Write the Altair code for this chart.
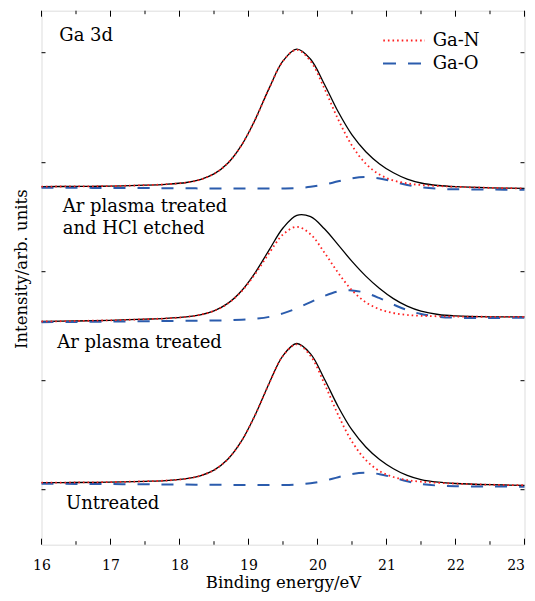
import altair as alt
import pandas as pd

# Binding energy grid (eV)
energy = [16, 16.5, 17, 17.5, 17.8, 18.1, 18.3, 18.5, 18.7, 18.9, 19.1, 19.3, 19.5, 19.7,
          19.9, 20.1, 20.3, 20.5, 20.7, 20.9, 21.1, 21.3, 21.5, 21.75, 22, 22.5, 23]

# Top spectrum (offset stack)
top_total = [358.1, 358.3, 358.6, 359.5, 360.4, 362.2, 365.1, 370.8, 381.5, 399.6, 425.6, 456.6, 483.8, 495.6,
             485.5, 460.5, 432.9, 409.8, 393.0, 380.8, 371.9, 365.6, 361.7, 359.2, 358.0, 356.9, 356.3]
top_gan = [358.1, 358.3, 358.6, 359.5, 360.4, 362.2, 365.1, 370.8, 381.5, 399.6, 425.6, 456.5, 483.6, 494.9,
           483.5, 456.2, 425.3, 399.1, 381.0, 370.1, 364.3, 361.3, 359.7, 358.7, 357.9, 356.9, 356.3]
top_gao = [357.0, 356.9, 356.7, 356.6, 356.5, 356.4, 356.3, 356.3, 356.2, 356.2, 356.1, 356.1, 356.2, 356.6,
           357.9, 360.1, 363.4, 366.4, 367.7, 366.3, 363.1, 359.8, 357.4, 355.9, 355.4, 355.1, 355.0]

# Middle spectrum
mid_total = [223.2, 223.7, 224.4, 225.5, 226.3, 227.8, 229.9, 233.9, 241.3, 254.0, 272.4, 294.9, 316.7, 329.4,
             328.0, 315.9, 299.8, 283.3, 268.6, 256.2, 246.1, 238.6, 233.6, 230.2, 228.8, 227.9, 227.9]
mid_gan = [223.2, 223.7, 224.4, 225.5, 226.3, 227.8, 229.9, 233.8, 241.1, 253.4, 271.0, 291.7, 310.2, 317.9,
           310.4, 292.2, 271.8, 254.4, 242.4, 235.4, 231.7, 229.8, 228.9, 228.4, 228.2, 227.9, 227.9]
mid_gao = [222.5, 222.8, 223.1, 223.5, 223.7, 223.9, 224.0, 224.2, 224.4, 225.0, 225.9, 227.8, 231.3, 236.4,
           242.6, 248.8, 253.3, 254.3, 251.7, 246.5, 240.2, 234.7, 230.7, 228.0, 227.0, 226.7, 227.0]

# Bottom spectrum
bot_total = [62.1, 62.2, 62.6, 63.4, 64.1, 66.0, 68.9, 74.6, 85.5, 103.8, 130.2, 161.5, 189.1, 201.2,
             190.8, 165.7, 138.0, 114.7, 97.7, 85.2, 76.0, 69.3, 65.1, 62.5, 61.2, 60.0, 59.4]
bot_gan = [62.1, 62.2, 62.6, 63.4, 64.1, 66.0, 68.9, 74.6, 85.5, 103.8, 130.2, 161.4, 188.9, 200.4,
           188.7, 161.0, 129.7, 103.1, 84.7, 73.6, 67.7, 64.6, 63.0, 61.9, 61.1, 60.0, 59.4]
bot_gao = [61.0, 60.8, 60.6, 60.4, 60.2, 60.1, 60.0, 59.9, 59.8, 59.8, 59.7, 59.6, 59.7, 60.2,
           61.4, 63.9, 67.5, 70.7, 72.0, 70.5, 67.1, 63.4, 60.7, 59.1, 58.5, 58.2, 58.0]

x_major = [16, 17, 18, 19, 20, 21, 22, 23]
x_minor = [16.5, 17.5, 18.5, 19.5, 20.5, 21.5, 22.5]
y_ticks = [55, 164, 273, 382, 492]

W, H = 483, 534
FONT = "DejaVu Serif"

rows = []
for spec, tot, gn, go in [("top", top_total, top_gan, top_gao),
                          ("mid", mid_total, mid_gan, mid_gao),
                          ("bot", bot_total, bot_gan, bot_gao)]:
    for i, e in enumerate(energy):
        rows.append({"spec": spec, "E": e, "total": tot[i], "gan": gn[i], "gao": go[i]})
df = pd.DataFrame(rows)

xs = alt.Scale(domain=[16, 23], nice=False)
ys = alt.Scale(domain=[0, 534], nice=False)

xaxis = alt.Axis(values=x_major, ticks=False, tickSize=0, domain=False, grid=False,
                 labelFont=FONT, labelFontSize=14, labelColor="black", labelPadding=14,
                 labelFlush=False, labelOverlap=False,
                 labelAlign={"condition": {"test": "datum.value == 23", "value": "right"},
                             "value": "center"},
                 title="Binding energy/eV", titleFont=FONT, titleFontSize=16.5,
                 titleFontWeight="normal", titleColor="black", titlePadding=2, format="d")
yaxis = alt.Axis(labels=False, ticks=False, tickSize=0, domain=False, grid=False,
                 title="Intensity/arb. units", titleFont=FONT, titleFontSize=16.5,
                 titleFontWeight="normal", titleColor="black", titlePadding=12, titleY=258)

interp = "catmull-rom"
base = alt.Chart(df)
total = base.mark_line(color="black", strokeWidth=1.3, interpolate=interp).encode(
    x=alt.X("E:Q", scale=xs, axis=xaxis),
    y=alt.Y("total:Q", scale=ys, axis=yaxis),
    detail="spec:N")
gao = base.mark_line(color="#2b5cad", strokeWidth=2, strokeDash=[12, 12],
                     interpolate=interp).encode(
    x=alt.X("E:Q", scale=xs), y=alt.Y("gao:Q", scale=ys), detail="spec:N")
gan = base.mark_line(color="#ff2020", strokeWidth=1.8, strokeDash=[1.6, 3],
                     interpolate=interp).encode(
    x=alt.X("E:Q", scale=xs), y=alt.Y("gan:Q", scale=ys), detail="spec:N")

# inward ticks
maj = pd.DataFrame({"v": x_major})
mnr = pd.DataFrame({"v": x_minor})
yt = pd.DataFrame({"v": y_ticks})
tk = []
for d, ln in [(maj, 6), (mnr, 3.5)]:
    tk.append(alt.Chart(d).mark_rule(color="black", strokeWidth=1).encode(
        x=alt.X("v:Q", scale=xs), y=alt.value(H), y2=alt.value(H - ln)))
    tk.append(alt.Chart(d).mark_rule(color="black", strokeWidth=1).encode(
        x=alt.X("v:Q", scale=xs), y=alt.value(0), y2=alt.value(ln)))
tk.append(alt.Chart(yt).mark_rule(color="black", strokeWidth=1).encode(
    y=alt.Y("v:Q", scale=ys), x=alt.value(0), x2=alt.value(4)))
tk.append(alt.Chart(yt).mark_rule(color="black", strokeWidth=1).encode(
    y=alt.Y("v:Q", scale=ys), x=alt.value(W), x2=alt.value(W - 4)))

# annotations
labels = pd.DataFrame({
    "t": ["Ga 3d", "Ar plasma treated", "and HCl etched", "Ar plasma treated", "Untreated", "Ga-N", "Ga-O"],
    "px": [17.8, 21.2, 21.2, 15.8, 24.5, 391.2, 391.2],
    "py": [25.3, 196.0, 218.3, 332.6, 493.3, 30.3, 53.8],
})
txt = alt.Chart(labels).mark_text(font=FONT, fontSize=18, align="left", baseline="middle",
                                  color="black").encode(
    x=alt.X("px:Q", scale=None), y=alt.Y("py:Q", scale=None), text="t:N")

leg_n = alt.Chart(pd.DataFrame({"a": [0]})).mark_rule(color="#ff2020", strokeWidth=1.8,
                                                      strokeDash=[1.6, 3]).encode(
    x=alt.value(341.8), x2=alt.value(383.5), y=alt.value(29.8))
leg_o = alt.Chart(pd.DataFrame({"a": [0]})).mark_rule(color="#2b5cad", strokeWidth=2,
                                                      strokeDash=[13, 12]).encode(
    x=alt.value(341.5), x2=alt.value(380), y=alt.value(52.8))

chart = alt.layer(total, gao, gan, *tk, txt, leg_n, leg_o).properties(
    width=W, height=H,
    autosize=alt.AutoSizeParams(type="none"),
    padding={"left": 33.5, "top": 2.7, "right": 2.5, "bottom": 48},
).configure_view(stroke="black", strokeWidth=1.2).configure(background="white")

chart.save("out.html", embed_options={"renderer": "svg", "actions": False})
